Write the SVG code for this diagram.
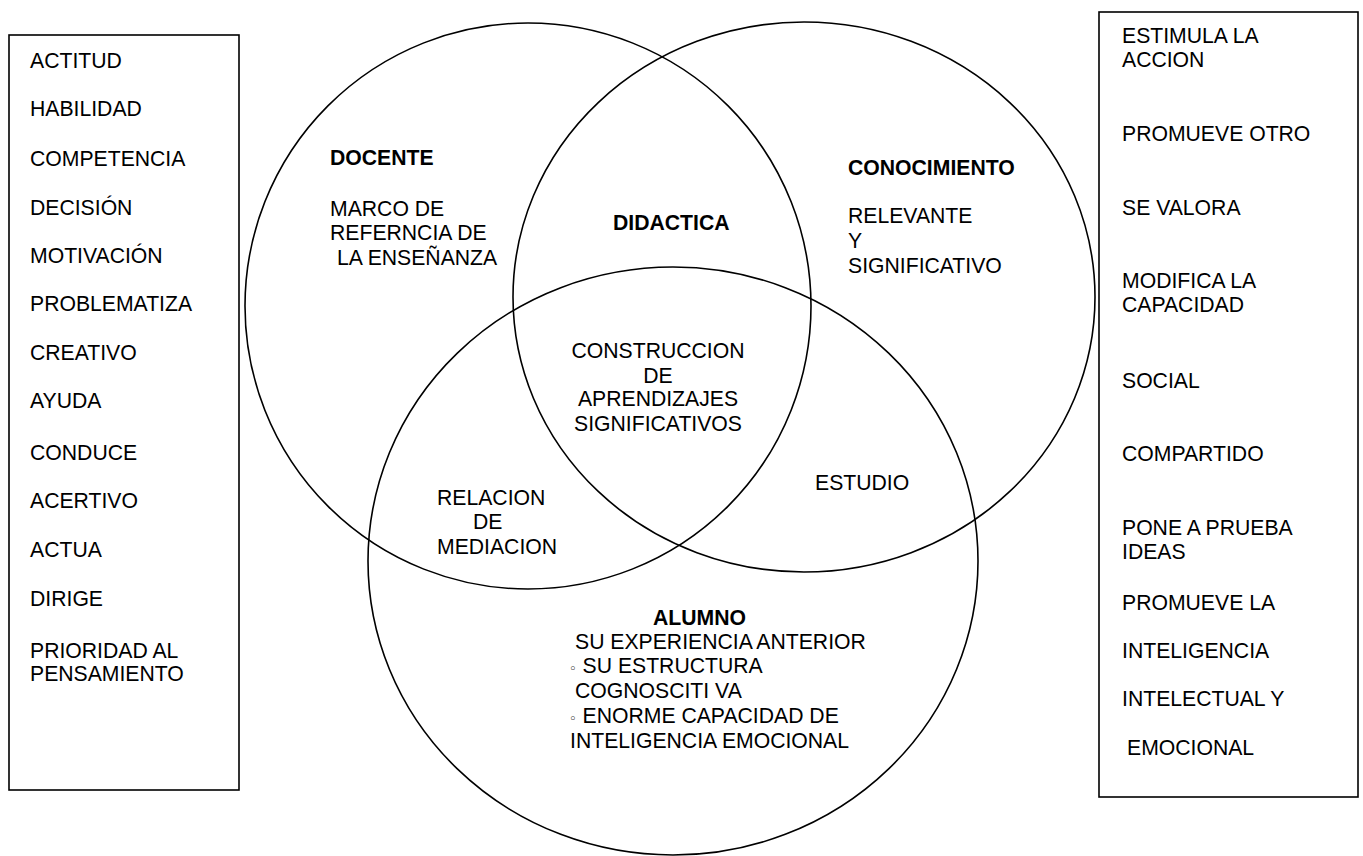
<svg xmlns="http://www.w3.org/2000/svg" width="1363" height="856" viewBox="0 0 1363 856">
<style>
.t{font-family:"Liberation Sans",Arial,sans-serif;font-size:21.2px;fill:#000}
.b{font-weight:bold}
.c{text-anchor:middle}
.shape{fill:none;stroke:#000;stroke-width:1.6}
.bul{font-family:"DejaVu Sans",sans-serif;font-size:13px}
</style>
<rect width="1363" height="856" fill="#fff"/>
<g id="lista-izquierda">
<rect class="shape" x="9" y="35" width="230" height="755"/>
<text class="t" x="30" y="68">ACTITUD</text>
<text class="t" x="30" y="116">HABILIDAD</text>
<text class="t" x="30" y="166">COMPETENCIA</text>
<text class="t" x="30" y="215">DECISIÓN</text>
<text class="t" x="30" y="263">MOTIVACIÓN</text>
<text class="t" x="30" y="311">PROBLEMATIZA</text>
<text class="t" x="30" y="360">CREATIVO</text>
<text class="t" x="30" y="408">AYUDA</text>
<text class="t" x="30" y="460">CONDUCE</text>
<text class="t" x="30" y="508">ACERTIVO</text>
<text class="t" x="30" y="557">ACTUA</text>
<text class="t" x="30" y="606">DIRIGE</text>
<text class="t" x="30" y="658">PRIORIDAD AL</text>
<text class="t" x="30" y="681">PENSAMIENTO</text>
</g>
<g id="lista-derecha">
<rect class="shape" x="1099" y="12" width="259" height="785"/>
<text class="t" x="1122" y="43">ESTIMULA LA</text>
<text class="t" x="1122" y="67">ACCION</text>
<text class="t" x="1122" y="141">PROMUEVE OTRO</text>
<text class="t" x="1122" y="215">SE VALORA</text>
<text class="t" x="1122" y="288">MODIFICA LA</text>
<text class="t" x="1122" y="312">CAPACIDAD</text>
<text class="t" x="1122" y="388">SOCIAL</text>
<text class="t" x="1122" y="461">COMPARTIDO</text>
<text class="t" x="1122" y="535">PONE A PRUEBA</text>
<text class="t" x="1122" y="559">IDEAS</text>
<text class="t" x="1122" y="610">PROMUEVE LA</text>
<text class="t" x="1122" y="658">INTELIGENCIA</text>
<text class="t" x="1122" y="706">INTELECTUAL Y</text>
<text class="t" x="1127" y="755">EMOCIONAL</text>
</g>
<g id="docente">
<circle class="shape" cx="528" cy="306" r="283"/>
<text class="t b" x="330" y="165">DOCENTE</text>
<text class="t" x="330" y="216">MARCO DE</text>
<text class="t" x="330" y="240">REFERNCIA DE</text>
<text class="t" x="337" y="265">LA ENSEÑANZA</text>
</g>
<g id="conocimiento">
<ellipse class="shape" cx="804" cy="297" rx="291" ry="275"/>
<text class="t b" x="848" y="175">CONOCIMIENTO</text>
<text class="t" x="848" y="223">RELEVANTE</text>
<text class="t" x="848" y="248">Y</text>
<text class="t" x="848" y="273">SIGNIFICATIVO</text>
</g>
<g id="alumno">
<ellipse class="shape" cx="673" cy="561" rx="305" ry="294"/>
<text class="t b" x="653" y="625">ALUMNO</text>
<text class="t" x="575" y="649">SU EXPERIENCIA ANTERIOR</text>
<text class="t" x="569" y="673"><tspan class="bul">◦</tspan> SU ESTRUCTURA</text>
<text class="t" x="575" y="698">COGNOSCITI VA</text>
<text class="t" x="569" y="723"><tspan class="bul">◦</tspan> ENORME CAPACIDAD DE</text>
<text class="t" x="570" y="748">INTELIGENCIA EMOCIONAL</text>
</g>
<g id="didactica">
<text class="t b" x="613" y="230">DIDACTICA</text>
</g>
<g id="construccion">
<text class="t c" x="658" y="358">CONSTRUCCION</text>
<text class="t c" x="658" y="383">DE</text>
<text class="t c" x="658" y="406">APRENDIZAJES</text>
<text class="t c" x="658" y="431">SIGNIFICATIVOS</text>
</g>
<g id="estudio">
<text class="t" x="815" y="490">ESTUDIO</text>
</g>
<g id="relacion">
<text class="t" x="437" y="505">RELACION</text>
<text class="t" x="473" y="529">DE</text>
<text class="t" x="437" y="554">MEDIACION</text>
</g>
<g id="conectores"></g>
</svg>
